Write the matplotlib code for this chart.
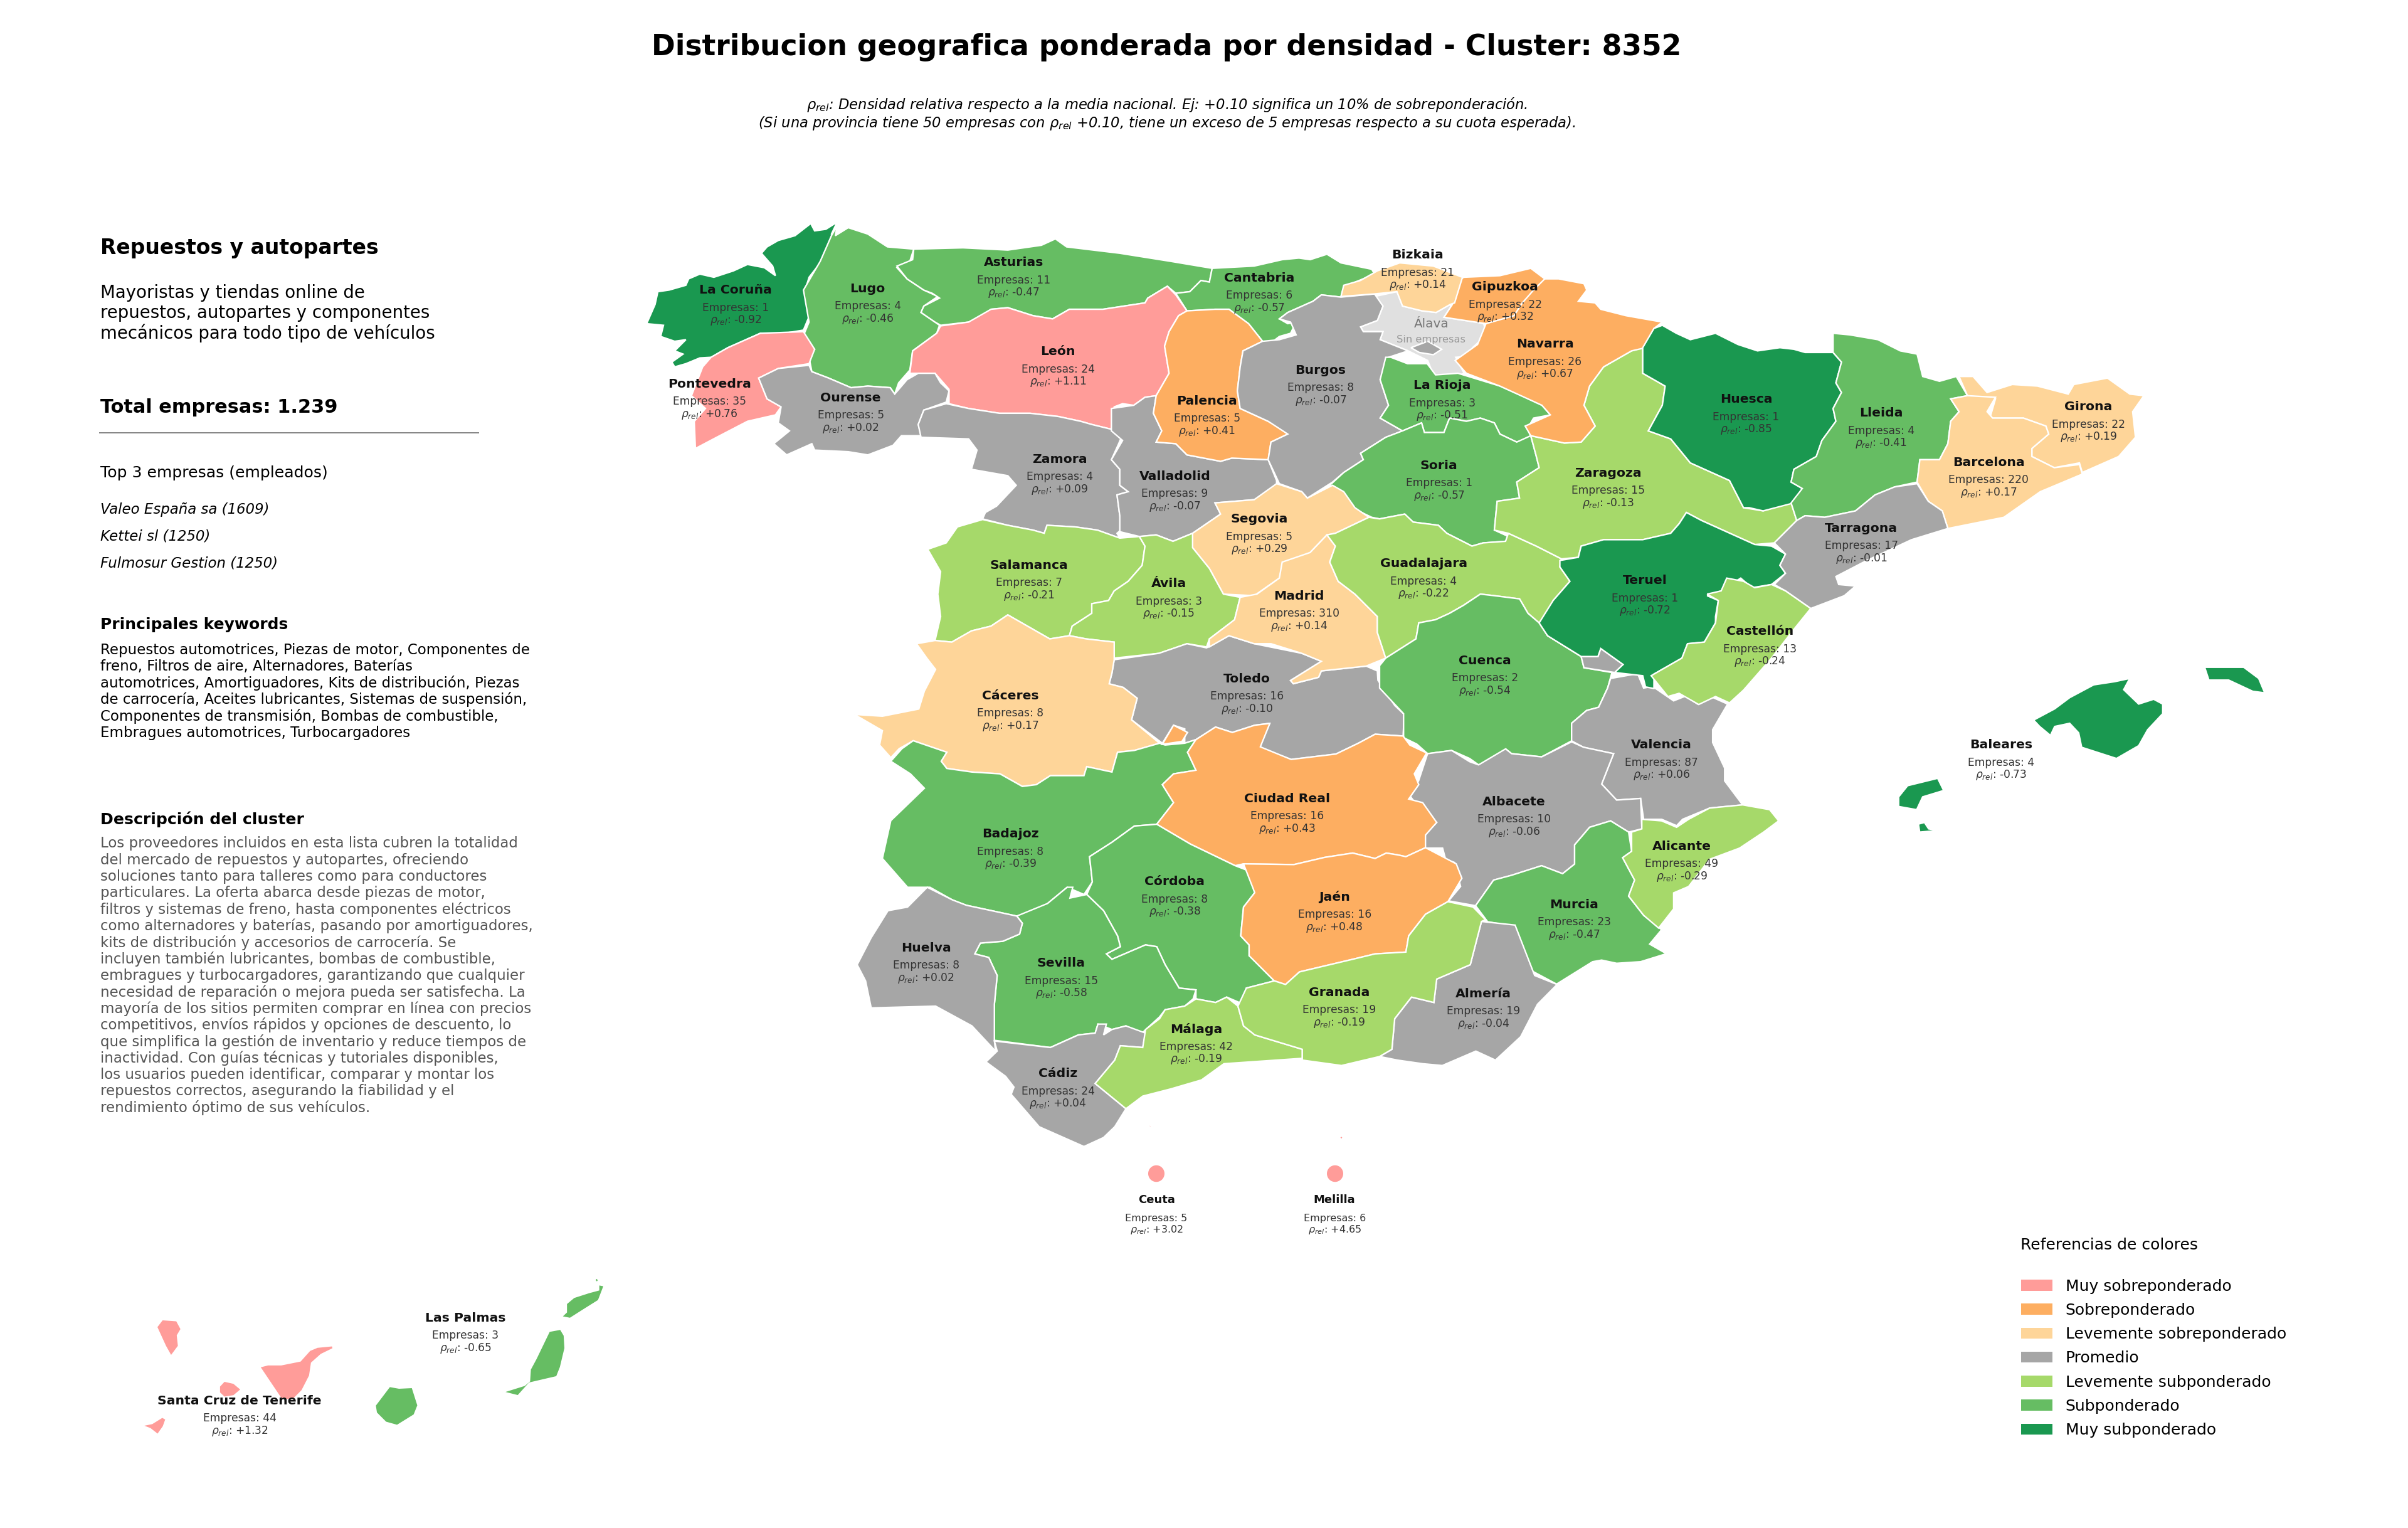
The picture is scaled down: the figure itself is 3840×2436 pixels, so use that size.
import numpy as np
import matplotlib
matplotlib.use("Agg")
import matplotlib.pyplot as plt
from matplotlib.patches import Polygon, Ellipse, Patch

plt.rcParams['font.family'] = ['DejaVu Sans']
plt.rcParams['mathtext.fontset'] = 'dejavusans'

# === Contornos: calcados de recortes del mapa, cada zN pasa a pixeles ===
def z1(p): return [(1000 + x / 1.12, 340 + y / 1.96) for x, y in p]
def z2(p): return [(2200 + x / 1.12, 340 + y / 1.96) for x, y in p]
def z3(p): return [(1300 + x / 1.12, 1050 + y / 1.742) for x, y in p]
def z4(p): return [(2200 + x / 1.045, 1000 + y / 1.96) for x, y in p]
def z6(p): return [(100 + x / 1.65, 1950 + y / 2.96) for x, y in p]

la_coruna = z1([(375,28),(365,65),(372,75),(345,155),(325,200),(318,240),(328,310),(315,365),(270,378),(238,375),(180,420),(150,450),(130,452),(105,470),(85,480),(80,465),(100,440),(85,430),(105,395),(85,400),(60,385),(65,350),(35,345),(50,285),(55,245),(75,240),(105,225),(110,205),(130,190),(155,200),(190,180),(215,160),(245,170),(265,195),(260,165),(240,125),(250,105),(270,85),(300,70),(328,32),(335,55),(355,50)])
lugo = z1([(375,40),(372,70),(395,45),(430,65),(465,105),(512,112),(505,150),(482,170),(500,205),(530,240),(555,260),(530,290),(525,310),(550,340),(558,350),(553,375),(510,430),(505,490),(485,530),(478,565),(470,545),(430,540),(400,545),(360,515),(330,495),(325,450),(335,425),(312,395),(325,340),(315,240),(345,150),(365,70)])
asturias = z1([(512,112),(600,108),(680,115),(740,100),(765,80),(785,105),(880,125),(970,150),(1045,172),(1040,215),(1025,210),(1005,245),(980,250),(965,228),(930,265),(925,280),(850,300),(790,300),(760,330),(725,320),(680,295),(650,300),(635,320),(610,340),(560,350),(550,340),(525,310),(530,290),(558,265),(545,250),(530,240),(500,205),(482,165),(510,145)])
cantabria = z1([(1045,172),(1120,165),(1170,145),(1200,140),(1220,145),(1250,128),(1275,155),(1330,175),(1335,190),(1280,230),(1275,262),(1240,255),(1225,275),(1180,310),(1165,330),(1180,345),(1195,340),(1185,375),(1165,385),(1150,405),(1135,400),(1110,345),(1075,300),(1050,300),(1000,305),(980,250),(1005,245),(1025,210),(1040,215)])
leon = z1([(560,352),(610,340),(650,300),(680,295),(725,320),(760,330),(790,300),(850,300),(925,280),(930,265),(965,228),(980,255),(1000,305),(985,320),(968,370),(960,415),(968,500),(945,570),(925,575),(905,600),(885,595),(870,605),(865,675),(830,660),(810,650),(770,635),(720,625),(665,625),(610,610),(575,595),(575,550),(550,500),(505,500),(510,430),(553,375)])
pontevedra = z1([(238,375),(315,370),(335,425),(325,470),(270,485),(235,515),(250,580),(275,605),(265,630),(215,650),(160,700),(122,735),(120,650),(140,610),(115,570),(135,480),(150,450),(180,420)])
ourense = z1([(235,515),(270,485),(325,475),(330,495),(360,515),(400,545),(430,540),(470,545),(478,565),(500,520),(520,500),(550,500),(560,530),(575,555),(570,590),(530,615),(520,660),(525,695),(490,695),(475,725),(430,755),(395,745),(335,740),(330,720),(285,755),(262,720),(290,680),(270,655),(275,605),(250,580)])
zamora = z1([(570,595),(610,610),(665,625),(720,625),(770,635),(810,650),(830,660),(865,675),(885,690),(878,720),(865,770),(880,800),(880,850),(895,870),(875,880),(880,945),(885,985),(875,1000),(880,1015),(840,990),(800,980),(750,975),(745,1000),(725,990),(680,975),(635,955),(640,935),(660,915),(695,850),(680,820),(615,800),(625,740),(610,705),(525,700),(520,660),(530,615)])
valladolid = z1([(865,610),(905,600),(925,575),(945,570),(940,625),(955,680),(945,715),(980,720),(1000,755),(1060,775),(1080,765),(1145,770),(1160,835),(1160,860),(1120,895),(1050,905),(1060,940),(1010,1000),(975,1025),(945,1005),(915,1010),(880,995),(880,945),(875,880),(895,870),(880,850),(880,800),(865,770),(885,710),(865,680)])
palencia = z1([(985,320),(1000,305),(1050,300),(1075,300),(1110,345),(1135,400),(1100,430),(1095,480),(1090,555),(1095,610),(1145,650),(1170,675),(1180,690),(1150,715),(1145,770),(1080,765),(1060,775),(1000,755),(980,720),(945,715),(955,680),(940,625),(945,570),(968,500),(960,415),(968,370)])
alava = z1([(1310,355),(1340,335),(1350,290),(1335,260),(1375,245),(1385,290),(1420,305),(1445,310),(1470,285),(1475,320),(1530,345),(1535,380),(1510,420),(1515,445),(1480,450),(1495,500),(1480,510),(1440,505),(1430,460),(1395,430),(1345,395),(1350,370),(1315,370)])
burgos = z1([(1100,430),(1135,400),(1165,395),(1195,380),(1185,340),(1165,330),(1180,310),(1225,275),(1240,255),(1275,262),(1335,252),(1350,290),(1340,335),(1310,355),(1315,370),(1350,370),(1345,395),(1395,430),(1360,450),(1345,520),(1360,600),(1345,640),(1385,680),(1355,700),(1310,750),(1315,770),(1280,810),(1260,840),(1215,890),(1205,870),(1165,845),(1145,770),(1150,715),(1180,690),(1145,650),(1095,610),(1090,555),(1095,480)])
trevino = z1([(1400,420),(1430,400),(1455,425),(1440,442),(1415,435)])
bizkaia = z1([(1275,260),(1280,225),(1310,210),(1340,180),(1380,155),(1440,165),(1492,200),(1478,280),(1470,285),(1445,310),(1420,305),(1385,290),(1375,245),(1335,252)])
la_rioja = z2([(11,450),(20,450),(50,470),(85,470),(100,505),(140,500),(215,540),(260,575),(290,600),(305,630),(275,640),(265,670),(270,700),(245,715),(215,690),(205,655),(180,640),(155,650),(125,640),(115,685),(80,685),(75,655),(41,680),(1,640),(16,600),(1,520)])
soria = z2([(11,700),(41,680),(75,655),(80,685),(115,685),(125,640),(155,650),(180,640),(205,655),(215,690),(245,715),(270,695),(280,760),(285,795),(245,840),(250,890),(210,900),(205,990),(230,1010),(225,1025),(185,1030),(165,1040),(120,1000),(105,975),(60,965),(45,940),(0,955),(-14,950),(-44,925),(-89,850),(-64,810),(-29,770),(-34,750)])
segovia = z1([(1160,845),(1205,870),(1215,890),(1260,850),(1280,870),(1300,920),(1325,950),(1265,1000),(1250,1005),(1220,1060),(1170,1100),(1165,1140),(1120,1195),(1065,1190),(1040,1110),(1010,1045),(1010,1000),(1060,940),(1050,905),(1120,895)])
madrid = z1([(1250,1005),(1265,1040),(1255,1090),(1270,1150),(1300,1190),(1340,1260),(1340,1310),(1355,1390),(1320,1415),(1240,1430),(1235,1450),(1190,1470),(1185,1460),(1240,1400),(1205,1375),(1150,1345),(1120,1345),(1075,1320),(1040,1355),(1040,1330),(1085,1270),(1095,1200),(1125,1190),(1165,1140),(1170,1090),(1220,1060)])
salamanca = z1([(635,957),(680,975),(725,990),(745,1000),(750,975),(800,980),(840,990),(880,1015),(915,1010),(925,1040),(920,1100),(895,1150),(870,1180),(860,1210),(830,1220),(830,1250),(795,1290),(790,1320),(755,1330),(715,1290),(680,1255),(650,1290),(615,1305),(580,1340),(550,1335),(560,1260),(555,1190),(560,1120),(537,1050),(570,1030),(590,980)])
avila = z1([(915,1010),(945,1005),(975,1025),(1010,1000),(1010,1045),(1040,1110),(1065,1190),(1095,1200),(1085,1270),(1040,1330),(1035,1355),(1000,1345),(950,1375),(870,1390),(870,1340),(820,1330),(790,1320),(795,1290),(830,1250),(830,1220),(860,1210),(870,1180),(895,1150),(920,1100),(925,1040)])
guadalajara = z2([(0,955),(45,940),(60,965),(105,975),(120,1000),(165,1040),(185,1030),(225,1025),(230,1000),(280,1040),(325,1080),(322,1105),(340,1150),(310,1210),(300,1260),(285,1280),(265,1250),(250,1205),(205,1195),(180,1190),(150,1225),(125,1250),(100,1270),(70,1280),(65,1330),(11,1390),(-4,1310),(-4,1260),(-44,1190),(-74,1150),(-89,1090),(-79,1040),(-94,1005),(-79,1000),(-19,950)])
cuenca = z2([(11,1390),(65,1330),(70,1280),(100,1270),(125,1250),(150,1225),(180,1190),(205,1195),(250,1205),(265,1250),(285,1280),(300,1320),(360,1385),(365,1420),(415,1435)]) + z4([(380,190),(365,250),(345,260),(320,300),(320,355),(270,405),(220,395),(210,380),(212,410),(165,430),(150,410),(120,385),(80,395),(62,365),(40,345),(40,270),(0,190),(0,120)])
teruel = z2([(322,1085),(355,1075),(360,1040),(400,1020),(470,1020),(520,1000),(535,970),(548,935),(575,960),(670,1035),(700,1040),(725,1065),(715,1100),(725,1125),(700,1160),(665,1170),(645,1140),(610,1180),(585,1195),(605,1210),(600,1260),(600,1280),(580,1340),(550,1345),(540,1390),(490,1440),(490,1485),(475,1480),(470,1445),(420,1435),(435,1410),(395,1360),(390,1385),(360,1385),(300,1320),(285,1280),(310,1210),(340,1150),(322,1105)])
zaragoza = z2([(270,695),(330,718),(360,715),(385,665),(365,600),(375,540),(400,480),(450,430),(470,420),(470,500),(510,540),(505,600),(480,680),(520,705),(555,780),(625,835),(650,920),(685,930),(735,905),(745,960),(705,1030),(670,1035),(575,960),(548,935),(535,970),(520,1000),(470,1020),(400,1020),(360,1040),(355,1075),(325,1080),(280,1040),(230,1000),(205,990),(210,900),(250,890),(245,840),(285,795),(280,760)])
navarra = z2([(150,205),(215,195),(270,170),(295,205),(320,205),(365,220),(370,240),(355,275),(385,280),(395,300),(440,320),(505,340),(490,360),(475,420),(450,430),(400,480),(375,540),(365,600),(385,665),(360,715),(330,718),(270,695),(260,665),(305,630),(290,600),(215,540),(155,500),(135,460),(175,410),(190,345),(115,325),(130,285),(135,220)])
gipuzkoa = z2([(115,325),(130,285),(135,220),(150,200),(215,195),(270,172),(295,205),(275,240),(255,280),(240,320),(190,345)])
huesca = z2([(505,350),(530,375),(555,395),(600,375),(640,410),(675,430),(715,420),(740,425),(760,435),(810,435),(825,465),(815,530),(825,560),(810,610),(815,650),(790,710),(780,760),(740,800),(735,840),(755,860),(740,905),(685,930),(660,920),(650,920),(625,835),(555,780),(520,705),(480,680),(505,600),(510,540),(470,500),(470,420),(490,360)])
lleida = z2([(810,375),(840,380),(890,395),(930,430),(960,440),(970,510),(1000,525),(1030,510),(1050,570),(1020,580),(1035,620),(1020,650),(1015,720),(1000,770),(965,770),(960,840),(920,855),(885,880),(850,930),(795,950),(760,945),(745,960),(735,905),(755,860),(735,840),(740,800),(780,760),(790,710),(815,650),(810,610),(825,560),(815,530),(825,465),(810,435)])
girona = z2([(1035,510),(1060,510),(1085,560),(1130,535),(1175,540),(1230,565),(1240,535),(1300,515),(1340,565),(1365,570),(1345,620),(1350,700),(1320,760),(1255,810),(1250,780),(1205,795),(1165,760),(1165,735),(1195,690),(1190,665),(1150,640),(1090,640),(1100,580),(1050,570)])
barcelona = z2([(1020,580),(1050,570),(1100,575),(1085,620),(1095,640),(1150,640),(1190,665),(1195,690),(1165,735),(1165,760),(1205,795),(1250,785),(1255,815),(1180,870),(1115,950),(1015,985),(1005,930),(980,900),(960,840),(965,770),(1000,770),(1015,720),(1020,650),(1035,620)])
tarragona = z2([(745,960),(760,945),(795,950),(850,930),(885,880),(920,855),(960,845),(980,900),(1005,930),(1015,985),(950,1020),(870,1085),(815,1135),(820,1160),(850,1165),(830,1195),(770,1235),(725,1180),(705,1160),(725,1125),(715,1100),(725,1065),(705,1030)])
castellon = z2([(620,1140),(650,1150),(670,1170),(700,1160),(725,1180),(770,1235),(740,1300),(700,1390),(650,1490),(625,1530),(600,1510),(570,1535),(535,1500),(515,1510),(485,1445),(540,1390),(550,1345),(580,1340),(600,1280),(605,1210),(585,1190),(610,1180)])
valencia = z4([(385,160),(430,145),(440,190),(455,185),(490,230),(510,215),(530,240),(550,215),(580,240),(555,320),(555,360),(575,440),(575,480),(605,555),(550,565),(505,600),(495,620),(470,600),(440,600),(435,535),(395,540),(370,490),(390,395),(340,375),(320,355),(320,300),(345,260),(365,250),(380,190)])
ademuz = z2([(360,1385),(390,1385),(395,1360),(435,1410),(420,1435),(365,1420)])
albacete = z4([(80,395),(120,385),(150,420),(165,430),(210,380),(220,395),(270,405),(320,358),(340,375),(390,395),(370,490),(395,540),(435,535),(437,630),(415,640),(385,605),(350,625),(325,680),(325,740),(305,770),(270,745),(220,775),(190,790),(160,870),(115,855),(135,810),(125,735),(110,725),(105,690),(72,690),(72,655),(95,610),(75,590),(50,525),(65,480)])
murcia = z4([(160,870),(190,790),(220,775),(270,745),(305,770),(325,740),(325,680),(350,625),(385,605),(415,640),(420,700),(405,720),(425,790),(415,840),(440,900),(470,945),(450,990),(478,1020),(435,1045),(395,1050),(370,1040),(355,1045),(295,1115),(250,1070),(222,1000),(225,935),(180,920)])
alicante = z4([(437,600),(470,605),(495,625),(515,600),(550,565),(605,555),(650,570),(665,605),(640,640),(600,690),(550,725),(515,810),(490,830),(490,880),(465,940),(440,900),(415,840),(425,790),(405,720),(420,700),(420,640),(437,630)])
mallorca = z4([(1090,290),(1125,255),(1150,220),(1190,180),(1225,170),(1250,160),(1240,195),(1265,240),(1290,225),(1305,240),(1305,270),(1280,320),(1265,370),(1228,410),(1170,375),(1165,330),(1150,300),(1125,310),(1118,338),(1100,310)])
menorca = z4([(1375,125),(1440,125),(1465,160),(1475,205),(1455,200),(1415,165),(1382,165)])
ibiza = z4([(865,530),(880,495),(930,472),(940,510),(905,530),(895,570),(865,560)])
formentera = z4([(898,615),(908,610),(915,630),(932,635),(900,640)])
almeria = z3([(1008,1105),(1030,1085),(1035,1000),(1065,940),(1105,955),(1110,890),(1170,850),(1190,730),(1250,740),(1285,880),(1325,905),(1290,960),(1260,1050),(1215,1115),(1180,1090),(1120,1130),(1085,1125),(1040,1115)])
toledo = z1([(870,1395),(950,1375),(1000,1345),(1035,1358),(1075,1320),(1120,1345),(1205,1375),(1240,1400),(1185,1460),(1190,1470),(1235,1450),(1240,1430),(1320,1415),(1340,1430)]) + z3([(1005,60),(1035,130),(1052,155),(1050,215),(1000,210),(970,235),(930,265),(850,280),(790,245),(810,180),(785,185),(745,205),(715,190),(680,225),(660,235),(660,195),(640,185),(620,235),(565,170),(575,110),(550,80),(525,70),(530,40)])
caceres = z1([(517,1345),(550,1335),(580,1340),(615,1305),(650,1290),(680,1255),(715,1290),(755,1330),(790,1320),(820,1330),(870,1340),(870,1395)]) + z3([(530,40),(525,70),(550,80),(575,110),(565,170),(615,235),(570,255),(540,260),(530,315),(485,300),(480,325),(420,325),(395,350),(370,355),(330,320),(280,315),(235,305),(225,285),(235,260),(175,228),(150,250),(135,275),(115,240),(120,200),(70,155),(120,160),(185,140),(195,90),(215,30),(200,0)])
badajoz = z3([(175,228),(235,260),(225,285),(235,305),(280,315),(330,320),(370,355),(395,350),(420,325),(480,325),(485,300),(530,315),(540,260),(570,255),(615,235),(625,240),(660,235),(680,225),(665,260),(680,310),(640,320),(620,350),(640,400),(610,460),(570,465),(530,510),(490,550),(495,620),(480,655),(450,635),(415,680),(400,700),(360,715),(270,685),(245,670),(205,635),(165,635),(120,555),(135,450),(195,360),(170,320),(135,285),(155,250)])
ciudad_real = z3([(680,225),(715,190),(745,205),(785,185),(812,180),(795,245),(850,280),(930,265),(970,235),(1000,210),(1050,215),(1062,240),(1092,262),(1070,320),(1078,350),(1060,390),(1085,400),(1110,455),(1090,490),(1090,525),(1055,550),(1040,545),(1020,540),(1000,555),(960,540),(910,552),(855,572),(765,570),(750,575),(670,515),(610,460),(640,400),(620,350),(640,320),(680,310),(665,260)])
anchuras = z3([(620,238),(640,185),(665,205),(655,230)])
jaen = z3([(765,570),(855,572),(910,552),(960,540),(1000,555),(1020,540),(1040,545),(1055,550),(1090,525),(1145,570),(1155,610),(1130,675),(1090,710),(1060,770),(1055,815),(1000,820),(960,835),(865,870),(840,905),(820,895),(775,825),(775,795),(760,770),(765,690),(785,650),(770,590)])
cordoba = z3([(610,460),(670,515),(750,575),(775,590),(785,650),(765,690),(760,770),(775,795),(775,825),(820,895),(770,915),(765,960),(735,940),(715,955),(680,945),(680,920),(650,915),(625,850),(610,800),(590,795),(575,805),(530,835),(520,820),(545,800),(540,770),(515,700),(485,655),(495,620),(490,550),(530,510),(570,465)])
sevilla = z3([(360,715),(415,680),(450,635),(460,635),(455,665),(485,655),(515,700),(540,770),(545,800),(520,820),(530,835),(575,805),(590,795),(610,800),(625,850),(650,915),(680,920),(675,945),(660,965),(625,975),(615,995),(580,1045),(555,1020),(530,1030),(505,1015),(500,1040),(470,1045),(420,1080),(320,1060),(320,960),(325,880),(310,830),(285,820),(295,790),(335,785),(365,765),(370,735)])
huelva = z3([(200,635),(245,670),(270,685),(360,715),(370,735),(365,765),(335,785),(295,790),(285,820),(310,830),(325,880),(320,960),(320,1060),(322,1090),(280,1020),(215,965),(100,970),(90,895),(75,850),(100,775),(130,700),(165,690)])
cadiz = z3([(320,1062),(420,1080),(470,1045),(500,1040),(505,1015),(520,1015),(515,1045),(530,1030),(555,1020),(590,1040),(585,1080),(545,1075),(535,1115),(500,1180),(555,1250),(535,1300),(515,1330),(480,1355),(400,1300),(350,1210),(355,1190),(340,1160),(305,1120),(325,1090)])
malaga = z3([(625,975),(660,965),(680,945),(715,955),(735,940),(755,965),(765,1020),(785,1045),(870,1085),(870,1110),(730,1125),(690,1170),(635,1195),(585,1215),(555,1250),(500,1180),(535,1115),(545,1075),(585,1080),(590,1030),(615,1000)])
granada = z3([(840,905),(865,870),(960,835),(1000,820),(1055,815),(1060,770),(1090,710),(1130,675),(1175,690),(1197,725),(1190,730),(1170,850),(1110,890),(1105,955),(1065,940),(1035,1000),(1030,1085),(1008,1105),(940,1130),(870,1115),(870,1085),(785,1045),(765,1020),(755,965),(770,915),(820,895)])
ceuta_islet = z3([(595,1293),(604,1300),(597,1301)])
melilla_islet = z3([(940,1325),(943,1330),(940,1336),(936,1330)])
la_palma = z6([(247,490),(262,455),(300,460),(312,500),(302,530),(305,580),(285,628),(270,580)])
tenerife = z6([(518,678),(540,668),(575,668),(625,650),(650,600),(670,585),(710,578),(712,592),(680,620),(655,660),(650,720),(630,790),(605,835),(575,830),(545,750)])
gomera = z6([(412,770),(425,745),(450,755),(470,785),(450,815),(425,822),(412,800)])
hierro = z6([(208,955),(235,945),(262,915),(272,925),(265,960),(250,998),(230,970)])
gran_canaria = z6([(822,860),(860,770),(885,778),(920,775),(935,860),(925,905),(880,955),(850,940),(825,895)])
fuerteventura = z6([(1158,797),(1215,765),(1228,745),(1230,690),(1245,640),(1280,510),(1310,500),(1320,530),(1322,590),(1310,680),(1300,725),(1228,755),(1198,815)])
lanzarote = z6([(1312,442),(1325,420),(1325,380),(1345,350),(1385,327),(1410,315),(1410,290),(1425,295),(1410,365),(1370,410),(1335,450)])
graciosa = z6([(1400,265),(1407,258),(1410,275),(1403,278)])

# === Provincias: orden de dibujo (la ultima tapa el borde comun) ===
PROVINCIAS = ["La Coruña", "Lugo", "Asturias", "Cantabria", "León", "Pontevedra", "Ourense", "Zamora",
              "Valladolid", "Palencia", "Burgos", "La Rioja", "Soria", "Segovia", "Salamanca", "Ávila",
              "Toledo", "Madrid", "Guadalajara", "Zaragoza", "Cuenca", "Valencia", "Teruel", "Navarra",
              "Gipuzkoa", "Bizkaia", "Huesca", "Lleida", "Girona", "Barcelona", "Tarragona", "Castellón",
              "Albacete", "Murcia", "Alicante", "Baleares", "Almería", "Cáceres", "Badajoz", "Ciudad Real",
              "Córdoba", "Jaén", "Sevilla", "Huelva", "Cádiz", "Málaga", "Granada", "Ceuta", "Melilla",
              "Santa Cruz de Tenerife", "Las Palmas"]
EMPRESAS = [1, 4, 11, 6, 24, 35, 5, 4, 9, 5, 8, 3, 1, 5, 7, 3, 16, 310, 4, 15, 2, 87, 1, 26, 22, 21, 1, 4,
            22, 220, 17, 13, 10, 23, 49, 4, 19, 8, 8, 16, 8, 16, 15, 8, 24, 42, 19, 5, 6, 44, 3]
RHO = [-0.92, -0.46, -0.47, -0.57, 1.11, 0.76, 0.02, 0.09, -0.07, 0.41, -0.07, -0.51, -0.57, 0.29, -0.21,
       -0.15, -0.10, 0.14, -0.22, -0.13, -0.54, 0.06, -0.72, 0.67, 0.32, 0.14, -0.85, -0.41, 0.19, 0.17,
       -0.01, -0.24, -0.06, -0.47, -0.29, -0.73, -0.04, 0.17, -0.39, 0.43, -0.38, 0.48, -0.58, 0.02,
       0.04, -0.19, -0.19, 3.02, 4.65, 1.32, -0.65]
# posicion del nombre, en pixeles de la vista 1568 de ancho
LABEL_X = [479, 565, 660, 820, 689, 462, 554, 690, 765, 786, 860, 939, 937, 820, 670, 761, 812, 846, 927,
           1047, 967, 1082, 1071, 1006, 980, 923, 1137, 1225, 1360, 1295, 1212, 1146, 986, 1025, 1095,
           1303, 966, 658, 658, 838, 765, 869, 691, 603, 689, 779, 872, 753, 869, 156, 303]
LABEL_Y = [189, 188, 171, 181, 229, 250, 259, 299, 310, 261, 241, 251, 303, 338, 368, 380, 442, 388, 367,
           308, 430, 485, 378, 224, 187, 166, 260, 269, 265, 301, 344, 411, 522, 589, 551, 485, 647, 453,
           543, 520, 574, 584, 627, 617, 699, 670, 646, 781, 781, 912, 858]

OUTLINES = {
    "La Coruña": [la_coruna], "Lugo": [lugo], "Asturias": [asturias], "Cantabria": [cantabria],
    "León": [leon], "Pontevedra": [pontevedra], "Ourense": [ourense], "Zamora": [zamora],
    "Valladolid": [valladolid], "Palencia": [palencia], "Burgos": [burgos, trevino], "La Rioja": [la_rioja],
    "Soria": [soria], "Segovia": [segovia], "Salamanca": [salamanca], "Ávila": [avila], "Toledo": [toledo],
    "Madrid": [madrid], "Guadalajara": [guadalajara], "Zaragoza": [zaragoza], "Cuenca": [cuenca],
    "Valencia": [valencia, ademuz], "Teruel": [teruel], "Navarra": [navarra], "Gipuzkoa": [gipuzkoa],
    "Bizkaia": [bizkaia], "Huesca": [huesca], "Lleida": [lleida], "Girona": [girona], "Barcelona": [barcelona],
    "Tarragona": [tarragona], "Castellón": [castellon], "Albacete": [albacete], "Murcia": [murcia],
    "Alicante": [alicante], "Baleares": [mallorca, menorca, ibiza, formentera], "Almería": [almeria],
    "Cáceres": [caceres], "Badajoz": [badajoz], "Ciudad Real": [ciudad_real, anchuras], "Córdoba": [cordoba],
    "Jaén": [jaen], "Sevilla": [sevilla], "Huelva": [huelva], "Cádiz": [cadiz], "Málaga": [malaga],
    "Granada": [granada], "Ceuta": [ceuta_islet], "Melilla": [melilla_islet],
    "Santa Cruz de Tenerife": [la_palma, tenerife, gomera, hierro],
    "Las Palmas": [gran_canaria, fuerteventura, lanzarote, graciosa],
}

CLASES = ["Muy sobreponderado", "Sobreponderado", "Levemente sobreponderado", "Promedio",
          "Levemente subponderado", "Subponderado", "Muy subponderado"]
COLORES = ["#ff9c99", "#fdae61", "#fed599", "#a6a6a6", "#a6d96a", "#66bd63", "#1a9850"]
CORTES = [0.70, 0.30, 0.10, -0.105, -0.30, -0.70]

TOP3 = ["Valeo España sa (1609)", "Kettei sl (1250)", "Fulmosur Gestion (1250)"]
KEYWORDS = ["Repuestos automotrices, Piezas de motor, Componentes de",
            "freno, Filtros de aire, Alternadores, Baterías",
            "automotrices, Amortiguadores, Kits de distribución, Piezas",
            "de carrocería, Aceites lubricantes, Sistemas de suspensión,",
            "Componentes de transmisión, Bombas de combustible,",
            "Embragues automotrices, Turbocargadores"]
DESCRIPCION = ["Los proveedores incluidos en esta lista cubren la totalidad",
               "del mercado de repuestos y autopartes, ofreciendo",
               "soluciones tanto para talleres como para conductores",
               "particulares. La oferta abarca desde piezas de motor,",
               "filtros y sistemas de freno, hasta componentes eléctricos",
               "como alternadores y baterías, pasando por amortiguadores,",
               "kits de distribución y accesorios de carrocería. Se",
               "incluyen también lubricantes, bombas de combustible,",
               "embragues y turbocargadores, garantizando que cualquier",
               "necesidad de reparación o mejora pueda ser satisfecha. La",
               "mayoría de los sitios permiten comprar en línea con precios",
               "competitivos, envíos rápidos y opciones de descuento, lo",
               "que simplifica la gestión de inventario y reduce tiempos de",
               "inactividad. Con guías técnicas y tutoriales disponibles,",
               "los usuarios pueden identificar, comparar y montar los",
               "repuestos correctos, asegurando la fiabilidad y el",
               "rendimiento óptimo de sus vehículos."]


def clase(rho):
    for i, c in enumerate(CORTES):
        if rho > c:
            return i
    return len(CORTES)


fig = plt.figure(figsize=(16, 10.15), dpi=240)
ax = fig.add_axes([0, 0, 1, 1])
ax.set_xlim(0, 3840)
ax.set_ylim(2436, 0)
ax.axis("off")

# Alava va primero, Burgos la recorta (Trevino)
ax.add_patch(Polygon(alava, closed=True, fc="#e0e0e0", ec="white", lw=0.7))
for name, rho in zip(PROVINCIAS, RHO):
    col = COLORES[clase(rho)]
    for part in OUTLINES[name]:
        ax.add_patch(Polygon(part, closed=True, fc=col, ec="white", lw=0.7))

# === Etiquetas ===
K = 3840 / 1568
for name, n, rho, lx, ly in zip(PROVINCIAS, EMPRESAS, RHO, LABEL_X, LABEL_Y):
    x, y = lx * K, ly * K
    small = name in ("Ceuta", "Melilla")
    fs_name = 5.4 if small else 6.1
    fs = 4.8 if small else 5.15
    d1, d2 = (30, 48) if small else (28, 48)
    ax.text(x, y, name, ha="center", va="center", fontsize=fs_name, fontweight="bold", color="#111111")
    ax.text(x, y + d1, f"Empresas: {n}", ha="center", va="center", fontsize=fs, color="#333333")
    ax.text(x, y + d2, rf"$\rho_{{rel}}$: {rho:+.2f}", ha="center", va="center", fontsize=fs, color="#333333")
# Ceuta y Melilla llevan ademas un punto
for x in (1844, 2129):
    ax.add_patch(Ellipse((x, 1871), 26, 26.5, fc=COLORES[0], ec="none"))
ax.text(932 * K, 211 * K, "Álava", ha="center", va="center", fontsize=6, color="#777777")
ax.text(932 * K, 221 * K, "Sin empresas", ha="center", va="center", fontsize=4.9, color="#999999")

# === Titulo ===
ax.text(1860, 75, "Distribucion geografica ponderada por densidad - Cluster: 8352", ha="center", va="center",
        fontsize=13.67, fontweight="bold", color="black")
ax.text(1861, 167, r"$\rho_{rel}$: Densidad relativa respecto a la media nacional. Ej: +0.10 significa un 10% de sobreponderación.",
        ha="center", va="center", fontsize=6.8, style="italic")
ax.text(1861, 196, r"(Si una provincia tiene 50 empresas con $\rho_{rel}$ +0.10, tiene un exceso de 5 empresas respecto a su cuota esperada).",
        ha="center", va="center", fontsize=6.8, style="italic")

# === Panel izquierdo ===
PX = 160
ax.text(PX, 396, "Repuestos y autopartes", va="center", fontsize=9.9, fontweight="bold")
for y, t in zip((467, 499, 531), ("Mayoristas y tiendas online de", "repuestos, autopartes y componentes",
                                  "mecánicos para todo tipo de vehículos")):
    ax.text(PX, y, t, va="center", fontsize=8.3)
ax.text(PX, 650, "Total empresas: 1.239", va="center", fontsize=9.1, fontweight="bold")
ax.plot([159, 763], [690, 690], color="#888888", lw=0.6)
ax.text(PX, 754, "Top 3 empresas (empleados)", va="center", fontsize=7.56)
for y, t in zip((812, 855, 898), TOP3):
    ax.text(PX, y, t, va="center", fontsize=6.86, style="italic")
ax.text(PX, 996, "Principales keywords", va="center", fontsize=7.5, fontweight="bold")
for i, t in enumerate(KEYWORDS):
    ax.text(PX, 1036 + i * 26.4, t, va="center", fontsize=6.86)
ax.text(PX, 1306, "Descripción del cluster", va="center", fontsize=7.56, fontweight="bold")
for i, t in enumerate(DESCRIPCION):
    ax.text(PX, 1345 + i * 26.3, t, va="center", fontsize=6.85, color="#555555")

# === Leyenda ===
handles = [Patch(fc=c, ec="none", label=l) for c, l in zip(COLORES, CLASES)]
ax.legend(handles=handles, title="Referencias de colores\n", loc="upper left", bbox_to_anchor=(3200, 1950),
          bbox_transform=ax.transData, frameon=False, fontsize=7.5, title_fontsize=7.5, alignment="left",
          labelspacing=0.57, handlelength=2.0, handletextpad=0.85)

plt.savefig("out.png", dpi=240)
plt.close()
